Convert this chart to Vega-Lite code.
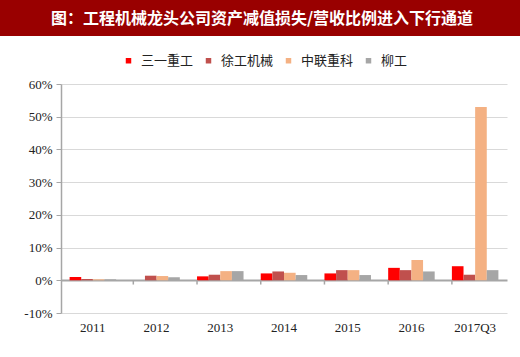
{
  "$schema": "https://vega.github.io/schema/vega-lite/v6.json",
  "padding": 0,
  "background": "white",
  "spacing": 42,
  "center": true,
  "config": {"view": {"stroke": null}, "axis": {"labelOverlap": false}},
  "vconcat": [
    {
      "width": 568,
      "height": 36,
      "view": {"fill": "#990000", "stroke": null},
      "data": {"values": [{"t": "图：工程机械龙头公司资产减值损失/营收比例进入下行通道"}]},
      "mark": {"type": "text", "color": "white", "font": "Noto Sans CJK SC", "fontSize": 16, "fontWeight": "bold", "baseline": "middle", "align": "center", "dy": 1, "dx": -22},
      "encoding": {"text": {"field": "t"}}
    },
    {
      "width": 446,
      "height": 229,
      "layer": [
        {
          "data": {"values": [
            {"year": "2011", "co": "三一重工", "v": 1.0},
            {"year": "2011", "co": "徐工机械", "v": 0.4},
            {"year": "2011", "co": "中联重科", "v": 0.3},
            {"year": "2011", "co": "柳工", "v": 0.3},
            {"year": "2012", "co": "三一重工", "v": 0},
            {"year": "2012", "co": "徐工机械", "v": 1.4},
            {"year": "2012", "co": "中联重科", "v": 1.3},
            {"year": "2012", "co": "柳工", "v": 0.9},
            {"year": "2013", "co": "三一重工", "v": 1.2},
            {"year": "2013", "co": "徐工机械", "v": 1.7},
            {"year": "2013", "co": "中联重科", "v": 2.8},
            {"year": "2013", "co": "柳工", "v": 2.8},
            {"year": "2014", "co": "三一重工", "v": 2.1},
            {"year": "2014", "co": "徐工机械", "v": 2.7},
            {"year": "2014", "co": "中联重科", "v": 2.3},
            {"year": "2014", "co": "柳工", "v": 1.6},
            {"year": "2015", "co": "三一重工", "v": 2.1},
            {"year": "2015", "co": "徐工机械", "v": 3.1},
            {"year": "2015", "co": "中联重科", "v": 3.1},
            {"year": "2015", "co": "柳工", "v": 1.6},
            {"year": "2016", "co": "三一重工", "v": 3.8},
            {"year": "2016", "co": "徐工机械", "v": 3.1},
            {"year": "2016", "co": "中联重科", "v": 6.2},
            {"year": "2016", "co": "柳工", "v": 2.7},
            {"year": "2017Q3", "co": "三一重工", "v": 4.3},
            {"year": "2017Q3", "co": "徐工机械", "v": 1.7},
            {"year": "2017Q3", "co": "中联重科", "v": 53.0},
            {"year": "2017Q3", "co": "柳工", "v": 3.1}
          ]},
          "mark": {"type": "bar"},
          "encoding": {
            "x": {"field": "year", "type": "nominal", "sort": ["2011", "2012", "2013", "2014", "2015", "2016", "2017Q3"],
              "scale": {"paddingInner": 0.27, "paddingOuter": 0.135},
              "axis": {"title": null, "domain": false, "ticks": false, "labelAngle": 0, "labelFont": "Liberation Serif", "labelFontSize": 13, "labelColor": "#222", "labelPadding": 8}},
            "xOffset": {"field": "co", "type": "nominal", "sort": ["三一重工", "徐工机械", "中联重科", "柳工"], "scale": {"paddingInner": 0, "paddingOuter": 0}},
            "y": {"field": "v", "type": "quantitative",
              "scale": {"domain": [-10, 60], "nice": false},
              "axis": {"title": null, "values": [-10, 0, 10, 20, 30, 40, 50, 60], "labelOverlap": false, "labelExpr": "datum.value + '%'", "labelFont": "Liberation Serif", "labelFontSize": 13, "labelColor": "#222",
                "gridColor": {"condition": {"test": "datum.value === 0", "value": "#A6A6A6"}, "value": "#D9D9D9"},
                "gridWidth": {"condition": {"test": "datum.value === 0", "value": 2}, "value": 1},
                "domainColor": "#A6A6A6", "domainWidth": 1.5, "tickColor": "#A6A6A6", "tickSize": 5, "labelPadding": 4, "minExtent": 55, "maxExtent": 55}},
            "color": {"field": "co", "type": "nominal", "sort": ["三一重工", "徐工机械", "中联重科", "柳工"],
              "scale": {"domain": ["三一重工", "徐工机械", "中联重科", "柳工"], "range": ["#FF0000", "#C0504D", "#F4B183", "#A6A6A6"]},
              "legend": {"title": null, "orient": "none", "direction": "horizontal", "legendX": 122, "legendY": 54, "symbolType": "square", "symbolSize": 30, "symbolStrokeWidth": 0, "labelFont": "Noto Sans CJK SC", "labelFontSize": 13, "labelColor": "#222", "labelOffset": 6, "columnPadding": 8, "padding": 0}}
          }
        },
        {
          "data": {"values": [
            {"year": "2012", "v": 0, "v2": -1.3},
            {"year": "2013", "v": 0, "v2": -1.3},
            {"year": "2014", "v": 0, "v2": -1.3},
            {"year": "2015", "v": 0, "v2": -1.3},
            {"year": "2016", "v": 0, "v2": -1.3},
            {"year": "2017Q3", "v": 0, "v2": -1.3}
          ]},
          "mark": {"type": "rule", "color": "#A6A6A6", "strokeWidth": 1.5},
          "encoding": {
            "x": {"field": "year", "type": "nominal", "bandPosition": 0, "sort": ["2011", "2012", "2013", "2014", "2015", "2016", "2017Q3"],
              "scale": {"paddingInner": 0.27, "paddingOuter": 0.135},
              "axis": {"title": null, "domain": false, "ticks": false, "labelAngle": 0, "labelFont": "Liberation Serif", "labelFontSize": 13, "labelColor": "#222", "labelPadding": 8}},
            "y": {"field": "v", "type": "quantitative",
              "scale": {"domain": [-10, 60], "nice": false},
              "axis": {"title": null, "values": [-10, 0, 10, 20, 30, 40, 50, 60], "labelOverlap": false, "labelExpr": "datum.value + '%'", "labelFont": "Liberation Serif", "labelFontSize": 13, "labelColor": "#222",
                "gridColor": {"condition": {"test": "datum.value === 0", "value": "#A6A6A6"}, "value": "#D9D9D9"},
                "gridWidth": {"condition": {"test": "datum.value === 0", "value": 2}, "value": 1},
                "domainColor": "#A6A6A6", "domainWidth": 1.5, "tickColor": "#A6A6A6", "tickSize": 5, "labelPadding": 4, "minExtent": 55, "maxExtent": 55}},
            "y2": {"field": "v2"}
          }
        }
      ]
    }
  ]
}
